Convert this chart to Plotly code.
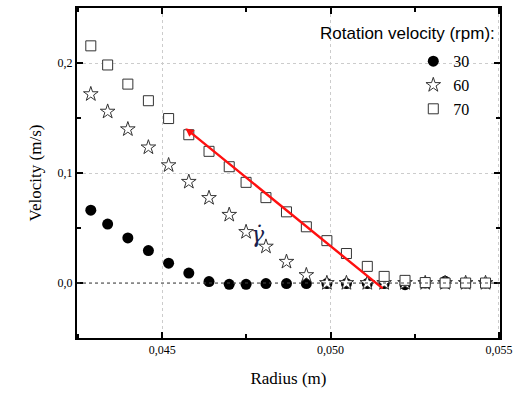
import plotly.graph_objects as go

# ---- data ----
radius = [0.04288, 0.04338, 0.04398, 0.04459, 0.04519, 0.04579, 0.04639,
          0.04699, 0.04749, 0.04808, 0.04869, 0.04928, 0.04989, 0.05047,
          0.05109, 0.05159, 0.05221, 0.05281, 0.05340, 0.05401, 0.05460]

v_30 = [0.0662, 0.0536, 0.0410, 0.0295, 0.0180, 0.0090, 0.0013, -0.0012,
        -0.0012, -0.0005, -0.0005, -0.0005, -0.0005, -0.0005, -0.0005,
        -0.0005, -0.0015, 0.0, 0.0015, 0.0, 0.0]
v_60 = [0.1717, 0.1558, 0.1398, 0.1233, 0.1071, 0.0920, 0.0773, 0.0620,
        0.0464, 0.0331, 0.0193, 0.0072, 0.0, 0.0, 0.0, 0.0, 0.0, 0.0,
        0.0, 0.0, 0.0]
v_70 = [0.2156, 0.1982, 0.1808, 0.1657, 0.1495, 0.1348, 0.1197, 0.1057,
        0.0915, 0.0776, 0.0647, 0.0511, 0.0385, 0.0268, 0.0151, 0.0060,
        0.0024, 0.0004, 0.0, 0.0, 0.0]

series_names = ["30", "60", "70"]

# red shear-rate line (head, tail)
line_r = [0.04569, 0.05159]
line_v = [0.1407, -0.0060]
gamma_pos = [0.04783, 0.044]

x_tickvals = [0.045, 0.050, 0.055]
x_ticktext = ["0,045", "0,050", "0,055"]
y_tickvals = [0.0, 0.1, 0.2]
y_ticktext = ["0,0", "0,1", "0,2"]

serif = "Liberation Serif, Times New Roman, serif"
sans = "Liberation Sans, Arial, sans-serif"

fig = go.Figure()

fig.add_trace(go.Scatter(
    x=radius, y=v_30, mode="markers", name=series_names[0],
    marker=dict(symbol="circle", size=11, color="black",
                line=dict(color="black", width=0))))
fig.add_trace(go.Scatter(
    x=radius, y=v_60, mode="markers", name=series_names[1],
    marker=dict(symbol="star", size=11, color="white",
                line=dict(color="#333333", width=1))))
fig.add_trace(go.Scatter(
    x=radius, y=v_70, mode="markers", name=series_names[2],
    marker=dict(symbol="square", size=10, color="white",
                line=dict(color="#333333", width=1))))

# zero dotted line
fig.add_shape(type="line", xref="paper", x0=0, x1=1, yref="y", y0=0, y1=0,
              line=dict(color="#444444", width=1.2, dash="dot"), layer="above")

# red arrow line
fig.add_annotation(x=line_r[0], y=line_v[0], ax=line_r[1], ay=line_v[1],
                   xref="x", yref="y", axref="x", ayref="y", text="",
                   showarrow=True, arrowcolor="#ff1010", arrowwidth=2.4,
                   arrowhead=2, arrowsize=0.7, standoff=0, startstandoff=0)

# gamma dot (shear rate)
fig.add_annotation(x=gamma_pos[0], y=gamma_pos[1], xref="x", yref="y",
                   text="<i>γ̇</i>", showarrow=False,
                   font=dict(family="DejaVu Serif", size=22, color="#1a1f4d"))

# legend title
fig.add_annotation(x=0.993, y=0.922, xref="paper", yref="paper",
                   xanchor="right", yanchor="middle",
                   text="Rotation velocity (rpm):", showarrow=False,
                   font=dict(family=sans, size=17, color="black"))

axis_common = dict(
    showline=True, linecolor="black", linewidth=2, mirror="allticks",
    ticks="inside", ticklen=6, tickwidth=1.5, tickcolor="black",
    showgrid=True, gridcolor="#cccccc", griddash="dot", gridwidth=1,
    zeroline=False,
    tickfont=dict(family=serif, size=12, color="black"),
)

fig.update_xaxes(
    range=[0.04247, 0.05503], tickvals=x_tickvals, ticktext=x_ticktext,
    minor=dict(ticks="inside", ticklen=4, tickwidth=1.5, tickcolor="black",
               dtick=0.0025, tick0=0.045, showgrid=False),
    title=dict(text="Radius (m)", font=dict(family=serif, size=17, color="black"),
               standoff=16),
    **axis_common)
fig.update_yaxes(
    range=[-0.05, 0.25], tickvals=y_tickvals, ticktext=y_ticktext,
    minor=dict(ticks="inside", ticklen=4, tickwidth=1.5, tickcolor="black",
               dtick=0.05, tick0=0, showgrid=False),
    title=dict(text="Velocity (m/s)", font=dict(family=serif, size=17, color="black"),
               standoff=12),
    **axis_common)

fig.update_layout(
    width=521, height=393,
    margin=dict(l=77, r=21, t=6, b=55),
    plot_bgcolor="white", paper_bgcolor="white",
    showlegend=True,
    legend=dict(x=0.795, y=0.89, xanchor="left", yanchor="top",
                bgcolor="rgba(0,0,0,0)", borderwidth=0,
                font=dict(family=serif, size=16, color="black"),
                tracegroupgap=0),
)

fig.write_html("out.html", config={"displayModeBar": False},
               post_script="document.body.style.margin='0';document.body.style.padding='0';")
